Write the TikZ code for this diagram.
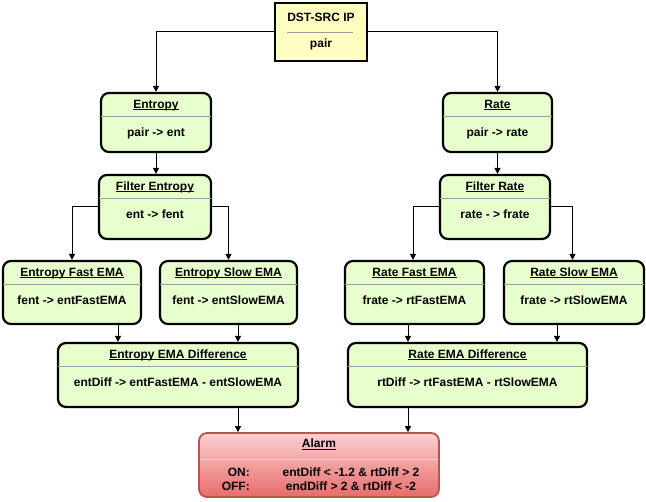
\documentclass[tikz,border=0pt]{standalone}
\usepackage{fontspec}
\setmainfont{Liberation Sans}
\usetikzlibrary{arrows.meta}
\definecolor{gfill}{RGB}{231,255,205}
\definecolor{yfill}{RGB}{255,255,194}
\definecolor{atop}{RGB}{249,210,209}
\definecolor{abot}{RGB}{232,108,105}
\definecolor{aline}{RGB}{184,84,80}
\definecolor{dline}{RGB}{155,155,155}
\newcommand\ulin[1]{\setbox0\hbox{#1}\rlap{\rule[-1.4pt]{\wd0}{0.8pt}}\box0}
\tikzset{
  gbox/.style={draw=black,line width=2.2pt,fill=gfill,rounded corners=8pt,inner sep=0pt},
  ybox/.style={draw=black,line width=2.6pt,fill=yfill,inner sep=0pt},
  abox/.style={draw=aline,line width=1.8pt,top color=atop,bottom color=abot,rounded corners=8pt,inner sep=0pt},
  divline/.style={draw=dline,line width=0.9pt},
  ttl/.style={font=\bfseries\fontsize{12}{14}\selectfont,inner sep=0pt,anchor=base},
  bdy/.style={font=\bfseries\fontsize{12}{14}\selectfont,inner sep=0pt,anchor=base},
  arr/.style={draw=black,line width=1pt,-{Triangle[length=6pt,width=6pt]}},
}
\newcommand\gbox[7]{%
  \node[gbox,minimum width=#4pt,minimum height=#5pt] (#1) at (#2,#3+#5/2) {};
  \draw[divline] ([xshift=1.5pt,yshift=-25pt]#1.north west) -- ([xshift=-1.5pt,yshift=-25pt]#1.north east);
  \node[ttl] (#1t) at (#2,#3+15.5) {\ulin{#6}};
  \node[bdy] (#1b) at (#2,#3+43.5) {#7};
}
\begin{document}
\begin{tikzpicture}[x=1pt,y=-1pt]
\useasboundingbox (0,0) rectangle (646,502);
% source
\node[ybox,minimum width=92pt,minimum height=58pt] (src) at (321,32) {};
\draw[divline] (287,32) -- (353,32);
\node[ttl] (srct) at (321,22) {DST-SRC IP};
\node[bdy] (srcb) at (321,48) {pair};
% boxes
\gbox{ent}{156}{93}{110}{59}{Entropy}{pair -> ent}
\gbox{fent}{155}{175}{112}{64}{Filter Entropy}{ent -> fent}
\gbox{efast}{72}{261}{138}{63}{Entropy Fast EMA}{fent -> entFastEMA}
\gbox{eslow}{228.5}{261}{137}{63}{Entropy Slow EMA}{fent -> entSlowEMA}
\gbox{ediff}{178}{343}{240}{64}{Entropy EMA Difference}{entDiff -> entFastEMA - entSlowEMA}
\gbox{rate}{497.5}{93}{109}{59}{Rate}{pair -> rate}
\gbox{frate}{495}{175}{110}{64}{Filter Rate}{rate - > frate}
\gbox{rfast}{414.5}{261}{139}{63}{Rate Fast EMA}{frate -> rtFastEMA}
\gbox{rslow}{574}{261}{140}{63}{Rate Slow EMA}{frate -> rtSlowEMA}
\gbox{rdiff}{467.5}{343}{239}{64}{Rate EMA Difference}{rtDiff -> rtFastEMA - rtSlowEMA}
% alarm
\node[abox,minimum width=240pt,minimum height=64pt] (alarm) at (319,465) {};
\draw[draw=white!70!gray,line width=0.9pt] ([xshift=1.5pt,yshift=-27pt]alarm.north west) -- ([xshift=-1.5pt,yshift=-27pt]alarm.north east);
\node[ttl] (alarmt) at (319,448) {\ulin{Alarm}};
\node[bdy,anchor=base east] (onl) at (250,477) {ON:};
\node[bdy,anchor=base east] (offl) at (250,490.5) {OFF:};
\node[bdy] (onc) at (351,477) {entDiff < -1.2 \& rtDiff > 2};
\node[bdy] (offc) at (351,490.5) {endDiff > 2 \& rtDiff < -2};
% connectors
\draw[arr] (src.west) -| (ent.north);
\draw[arr] (src.east) -| (rate.north);
\draw[arr] (ent.south) -- (ent.south |- fent.north);
\draw[arr] (rate.south) -- (rate.south |- frate.north);
\draw[arr] (fent.west) -| (efast.north);
\draw[arr] (fent.east) -| (eslow.north);
\draw[arr] (frate.west) -| ([xshift=-1.5pt]rfast.north);
\draw[arr] (frate.east) -| ([xshift=-1.5pt]rslow.north);
\draw[arr] ([xshift=46pt]efast.south) -- ([xshift=46pt]efast.south |- ediff.north);
\draw[arr] ([xshift=9.5pt]eslow.south) -- ([xshift=9.5pt]eslow.south |- ediff.north);
\draw[arr] ([xshift=-6.5pt]rfast.south) -- ([xshift=-6.5pt]rfast.south |- rdiff.north);
\draw[arr] ([xshift=-17pt]rslow.south) -- ([xshift=-17pt]rslow.south |- rdiff.north);
\draw[arr] ([xshift=60pt]ediff.south) -- ([xshift=60pt]ediff.south |- alarm.north);
\draw[arr] ([xshift=-59.5pt]rdiff.south) -- ([xshift=-59.5pt]rdiff.south |- alarm.north);
\end{tikzpicture}
\end{document}
